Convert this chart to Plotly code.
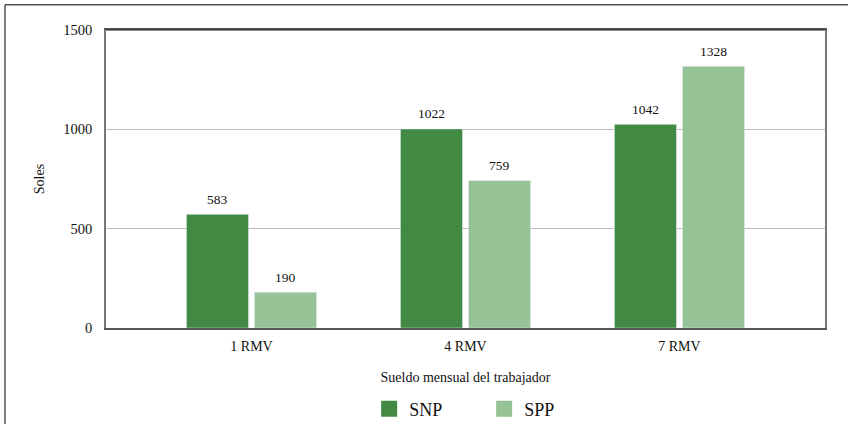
import plotly.graph_objects as go

categories = ["1 RMV", "4 RMV", "7 RMV"]
snp_values = [572, 1002, 1025]
spp_values = [180, 742, 1317]
snp_labels = ["583", "1022", "1042"]
spp_labels = ["190", "759", "1328"]
y_ticks = [0, 500, 1000, 1500]

SNP_COLOR = "#428A44"
SPP_COLOR = "#95C395"
FONT = "Liberation Serif"

fig = go.Figure()
fig.add_trace(go.Bar(x=categories, y=snp_values, name="SNP", marker_color=SNP_COLOR,
                     showlegend=False, hoverinfo="skip"))
fig.add_trace(go.Bar(x=categories, y=spp_values, name="SPP", marker_color=SPP_COLOR,
                     showlegend=False, hoverinfo="skip"))
# legend-only entries with larger square swatches
fig.add_trace(go.Scatter(x=[None], y=[None], mode="markers", name="SNP",
                         marker=dict(symbol="square", size=16, color=SNP_COLOR)))
fig.add_trace(go.Scatter(x=[None], y=[None], mode="markers", name="SPP",
                         marker=dict(symbol="square", size=16, color=SPP_COLOR)))

BAR_OFFSET_PX = 34
for vals, labs, sign in ((snp_values, snp_labels, -1), (spp_values, spp_labels, 1)):
    for c, v, t in zip(categories, vals, labs):
        fig.add_annotation(x=c, y=v, text=t, showarrow=False, xshift=sign * BAR_OFFSET_PX,
                           yshift=15, yanchor="middle",
                           font=dict(family=FONT, size=13.5, color="#111"))

fig.update_layout(
    width=848, height=424,
    margin=dict(l=106, r=23, t=30, b=96, autoexpand=False),
    paper_bgcolor="white", plot_bgcolor="white",
    barmode="group", bargap=0.364, bargroupgap=0.088,
    font=dict(family=FONT, size=14, color="#111"),
    legend=dict(orientation="h", x=0.366, xanchor="left",
                y=-0.272, yanchor="middle", borderwidth=0,
                font=dict(family=FONT, size=18, color="#111"),
                entrywidth=70, entrywidthmode="pixels", itemclick=False),
    xaxis=dict(type="category", range=[-0.68, 2.68], showline=True, linecolor="#555",
               linewidth=1.5, mirror=True, ticks="", showgrid=False, automargin=False,
               tickfont=dict(family=FONT, size=14), ticklabelstandoff=4,
               title=dict(text="Sueldo mensual del trabajador", standoff=19.5,
                          font=dict(family=FONT, size=14))),
    yaxis=dict(range=[0, 1500], tickvals=y_ticks, showline=True, linecolor="#777",
               linewidth=1.5, mirror=True, ticks="", showgrid=True, gridcolor="#BBBBBB",
               gridwidth=1, zeroline=False, tickfont=dict(family=FONT, size=14.5),
               ticklabelstandoff=9, automargin=False,
               title=dict(text="Soles", standoff=15, font=dict(family=FONT, size=14))),
    shapes=[
        dict(type="line", xref="paper", yref="paper", x0=0, x1=1, y0=1, y1=1,
             line=dict(color="#222", width=1.2)),
        dict(type="line", xref="paper", yref="paper", x0=-0.1405, x1=1.2, y0=1.0846, y1=1.0846,
             line=dict(color="#555", width=1.5)),
        dict(type="line", xref="paper", yref="paper", x0=-0.1405, x1=-0.1405, y0=1.0846, y1=-0.5,
             line=dict(color="#555", width=1.5)),
    ],
)

fig.write_html("out.html", config={"displayModeBar": False},
               post_script="document.body.style.margin='0';")
